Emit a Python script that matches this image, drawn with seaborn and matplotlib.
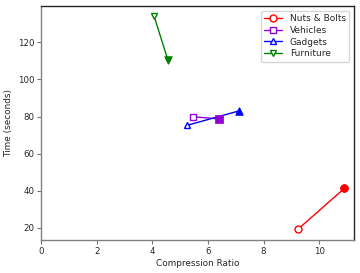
import numpy as np
import matplotlib
matplotlib.use("Agg")
import matplotlib.pyplot as plt
import seaborn as sns

# data: (start, end) per product
names = ["Nuts & Bolts", "Vehicles", "Gadgets", "Furniture"]
ratio = [[9.23, 10.91], [5.46, 6.41], [5.26, 7.11], [4.06, 4.56]]
seconds = [[19.1, 41.3], [79.9, 78.7], [75.3, 83.0], [134.4, 110.5]]
colors = ["red", "darkviolet", "blue", "green"]
markers = ["o", "s", "^", "v"]

sns.set_style("white")
plt.rcParams["font.family"] = ["DejaVu Sans"]
plt.rcParams["font.size"] = 6.5

fig, ax = plt.subplots(figsize=(3.6, 2.73), dpi=100)

for name, xs, ys, c, m in zip(names, ratio, seconds, colors, markers):
    sns.lineplot(x=xs, y=ys, ax=ax, color=c, marker=m, markersize=5,
                 markerfacecolor="white", markeredgecolor=c, markeredgewidth=1,
                 linewidth=1.0, label=name, sort=False)
    sns.scatterplot(x=xs[1:], y=ys[1:], ax=ax, color=c, marker=m, s=30,
                    edgecolor=c, linewidth=0.5, zorder=3, legend=False)

ax.set_xlim(0, 11.25)
ax.set_ylim(13.3, 139.6)
ax.set_xlabel("Compression Ratio", fontsize=6.4, labelpad=2)
ax.set_ylabel("Time (seconds)", fontsize=6.4, labelpad=3)
ax.tick_params(axis="both", labelsize=6.2, length=3, width=0.8, pad=2,
               color="0.45", bottom=True, left=True)
for side in ["left", "bottom"]:
    ax.spines[side].set_color("0.5")
for side in ["top", "right"]:
    ax.spines[side].set_color("0.15")
for s in ax.spines.values():
    s.set_linewidth(1)

ax.legend(loc="upper right", fontsize=6.5, frameon=True, handlelength=2,
          borderpad=0.4, labelspacing=0.3)

fig.subplots_adjust(left=0.114, right=0.983, bottom=0.12, top=0.978)
fig.savefig("out.png", dpi=100)
